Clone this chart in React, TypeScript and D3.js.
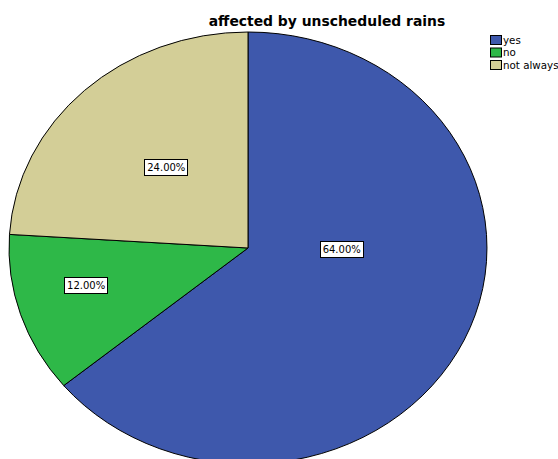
import React from "react";
import * as d3 from "d3";

// Responses to "affected by unscheduled rains"
const categories = ["yes", "no", "not always"];
const percentages = [64, 12, 24];
const sliceColors = ["#3E58AC", "#2EB848", "#D3CE97"];

// Label anchors in polar terms: angle (degrees, clockwise from 12 o'clock) and fraction of radius
const labelAngles = [90.7, 256, 317.6];
const labelRadii = [0.39, 0.70, 0.51];

const W = 558;
const H = 459;
const cx = 248;
const cy = 248;
const rx = 239;
const ry = 216;
const FONT = "DejaVu Sans, Verdana, sans-serif";

export default function App() {
  const pie = d3
    .pie<number>()
    .sort(null)
    .value((d) => d)
    .startAngle(0)
    .endAngle(2 * Math.PI);
  const arcs = pie(percentages);
  const arc = d3.arc<d3.PieArcDatum<number>>().innerRadius(0).outerRadius(1);
  const fmt = d3.format(".2f");

  return (
    <svg
      width={W}
      height={H}
      style={{ position: "absolute", left: 0, top: 0, background: "#fff" }}
      fontFamily={FONT}
    >
      <text x={327} y={26} textAnchor="middle" fontSize={13.9} fontWeight="bold" fill="#000">
        affected by unscheduled rains
      </text>

      <g transform={`translate(${cx},${cy}) scale(${rx},${ry})`}>
        {arcs.map((a, i) => (
          <path
            key={categories[i]}
            d={arc(a) || ""}
            fill={sliceColors[i]}
            stroke="#000"
            strokeWidth={1}
            vectorEffect="non-scaling-stroke"
          />
        ))}
      </g>

      {arcs.map((a, i) => {
        const ang = (labelAngles[i] * Math.PI) / 180;
        const x = cx + Math.sin(ang) * rx * labelRadii[i];
        const y = cy - Math.cos(ang) * ry * labelRadii[i];
        const label = `${fmt(a.data)}%`;
        const bw = 43;
        const bh = 16;
        return (
          <g key={`lbl-${i}`}>
            <rect
              x={Math.round(x - bw / 2) + 0.5}
              y={Math.round(y - bh / 2) + 0.5}
              width={bw}
              height={bh}
              fill="#fff"
              stroke="#000"
              strokeWidth={1}
            />
            <text x={x + 0.5} y={y + 4} textAnchor="middle" fontSize={10} fill="#000">
              {label}
            </text>
          </g>
        );
      })}

      <g>
        {categories.map((c, i) => (
          <g key={`leg-${c}`} transform={`translate(490,${35 + i * 12.5})`}>
            <rect x={0.5} y={0.5} width={11} height={9} fill={sliceColors[i]} stroke="#000" strokeWidth={1} />
            <text x={13} y={8.5} fontSize={10.3} fill="#000">
              {c}
            </text>
          </g>
        ))}
      </g>
    </svg>
  );
}
